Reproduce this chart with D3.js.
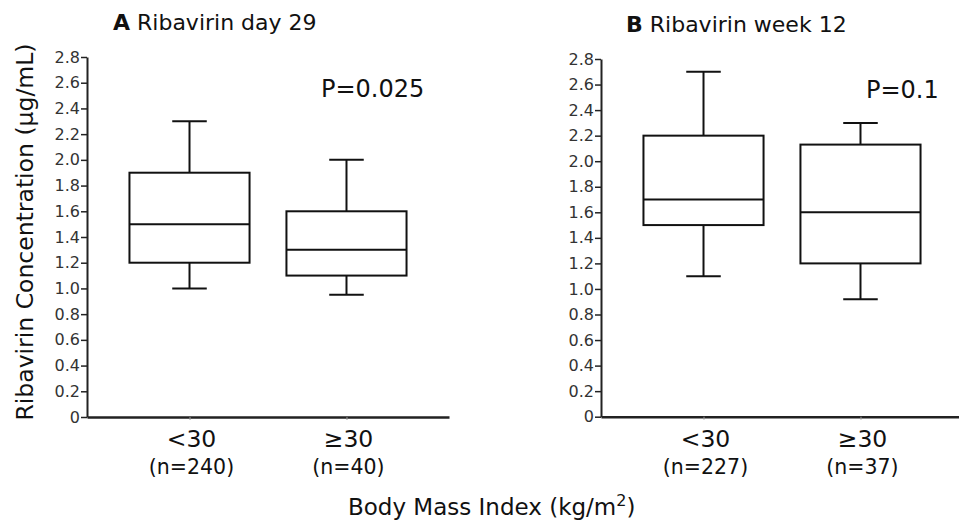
<!DOCTYPE html>
<html>
<head>
<meta charset="utf-8">
<script src="https://cdn.jsdelivr.net/npm/d3@7"></script>
<style>
  html, body { margin: 0; padding: 0; background: #fff; }
  svg { display: block; }
  text { font-family: "DejaVu Sans", Verdana, sans-serif; fill: #111; }
</style>
</head>
<body>
<svg id="chart" width="959" height="522"></svg>
<script>
// ---- data ----
const categories = ["<30", "\u226530"];
const panelTitlesBold = ["A", "B"];
const panelTitles = ["Ribavirin day 29", "Ribavirin week 12"];
const pValues = ["P=0.025", "P=0.1"];
const nLabelsA = ["(n=240)", "(n=40)"];
const nLabelsB = ["(n=227)", "(n=37)"];
// [low whisker, Q1, median, Q3, high whisker]
const statsA = [[1.0, 1.2, 1.5, 1.9, 2.3], [0.95, 1.1, 1.3, 1.6, 2.0]];
const statsB = [[1.1, 1.5, 1.7, 2.2, 2.7], [0.92, 1.2, 1.6, 2.13, 2.3]];
const yTicks = [0, 0.2, 0.4, 0.6, 0.8, 1.0, 1.2, 1.4, 1.6, 1.8, 2.0, 2.2, 2.4, 2.6, 2.8];
const yLabel = "Ribavirin Concentration (\u03bcg/mL)";
const xLabel = "Body Mass Index (kg/m";

const svg = d3.select("#chart");

const panels = [
  { x0: 87, x1: 449, yTop: 57, yBot: 417, stats: statsA, n: nLabelsA, bold: panelTitlesBold[0], title: panelTitles[0], p: pValues[0],
    titleX: 113, titleY: 30, pX: 321, pY: 97 },
  { x0: 601, x1: 963, yTop: 59, yBot: 416.7, stats: statsB, n: nLabelsB, bold: panelTitlesBold[1], title: panelTitles[1], p: pValues[1],
    titleX: 626, titleY: 32, pX: 866, pY: 98 }
];

panels.forEach(pn => {
  const g = svg.append("g");
  const y = d3.scaleLinear().domain([0, 2.8]).range([pn.yBot, pn.yTop]);
  const x = d3.scalePoint().domain(categories).range([pn.x0, pn.x1]).padding(0.653);
  const step = x.step();
  const boxW = step * 0.765;
  const capW = step * 0.22;

  // y axis
  const yAxis = d3.axisLeft(y).tickValues(yTicks).tickSize(6).tickSizeOuter(0)
    .tickFormat(d => d === 0 ? "0" : d3.format(".1f")(d));
  const ya = g.append("g").attr("transform", `translate(${pn.x0},0)`).call(yAxis);
  ya.attr("font-size", null).attr("font-family", null);
  ya.select(".domain").attr("stroke", "#222").attr("stroke-width", 2);
  ya.selectAll(".tick line").attr("stroke", "#222").attr("stroke-width", 1.5);
  ya.selectAll(".tick text").style("font-size", "16px")
    .style("fill", "#333").attr("x", -7);

  // x axis
  const xAxis = d3.axisBottom(x).tickSize(3).tickSizeOuter(0).tickFormat("");
  const xa = g.append("g").attr("transform", `translate(0,${pn.yBot})`).call(xAxis);
  xa.select(".domain").attr("stroke", "#222").attr("stroke-width", 2.5);
  xa.selectAll(".tick line").attr("stroke", "#999").attr("stroke-width", 1);

  // category labels
  categories.forEach((c, i) => {
    g.append("text").attr("x", x(c) + 2).attr("y", pn.yBot + 30)
      .attr("text-anchor", "middle").style("font-size", "23.5px").text(c);
    g.append("text").attr("x", x(c) + 2).attr("y", pn.yBot + 57)
      .attr("text-anchor", "middle").style("font-size", "20.5px").text(pn.n[i]);
  });

  // boxes
  categories.forEach((c, i) => {
    const [lo, q1, med, q3, hi] = pn.stats[i];
    const cx = x(c);
    const bg = g.append("g").attr("stroke", "#111").attr("stroke-width", 2).attr("fill", "none");
    bg.append("line").attr("x1", cx).attr("x2", cx).attr("y1", y(hi)).attr("y2", y(q3));
    bg.append("line").attr("x1", cx).attr("x2", cx).attr("y1", y(q1)).attr("y2", y(lo));
    bg.append("line").attr("x1", cx - capW / 2).attr("x2", cx + capW / 2).attr("y1", y(hi)).attr("y2", y(hi));
    bg.append("line").attr("x1", cx - capW / 2).attr("x2", cx + capW / 2).attr("y1", y(lo)).attr("y2", y(lo));
    bg.append("rect").attr("x", cx - boxW / 2).attr("width", boxW)
      .attr("y", y(q3)).attr("height", y(q1) - y(q3)).attr("fill", "#fff");
    bg.append("line").attr("x1", cx - boxW / 2).attr("x2", cx + boxW / 2).attr("y1", y(med)).attr("y2", y(med));
  });

  // title
  const t = g.append("text").attr("x", pn.titleX).attr("y", pn.titleY).style("font-size", "22px");
  t.append("tspan").attr("font-weight", "bold").text(pn.bold);
  t.append("tspan").text(" " + pn.title);

  // p value
  g.append("text").attr("x", pn.pX).attr("y", pn.pY).style("font-size", "24px").text(pn.p);
});

// y axis label
svg.append("text").attr("transform", "translate(33,232) rotate(-90)")
  .attr("text-anchor", "middle").style("font-size", "23.5px").text(yLabel);

// x axis label
const xl = svg.append("text").attr("x", 348).attr("y", 515).style("font-size", "23px");
xl.append("tspan").text(xLabel);
xl.append("tspan").style("font-size", "16px").attr("dy", -9).text("2");
xl.append("tspan").attr("dy", 9).text(")");
</script>
</body>
</html>
